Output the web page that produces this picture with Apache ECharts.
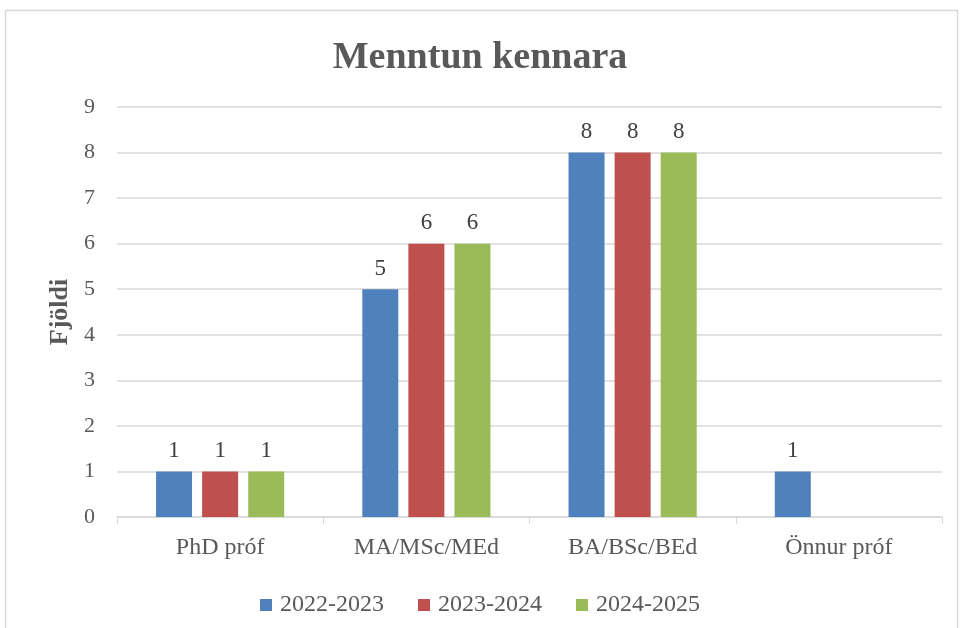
<!DOCTYPE html>
<html>
<head>
<meta charset="utf-8">
<script src="https://cdn.jsdelivr.net/npm/echarts@6/dist/echarts.min.js"></script>
<style>
  html, body { margin: 0; padding: 0; background: #fff; }
  #chart { width: 960px; height: 628px; }
</style>
</head>
<body>
<div id="chart"></div>
<script>
var categories = ['PhD próf', 'MA/MSc/MEd', 'BA/BSc/BEd', 'Önnur próf'];
var years = ['2022-2023', '2023-2024', '2024-2025'];
var val2223 = [1, 5, 8, 1];
var val2324 = [1, 6, 8, null];
var val2425 = [1, 6, 8, null];
var colors = ['#4f81bd', '#c0504d', '#9bbb59'];

var font = '"Liberation Serif", "DejaVu Serif", serif';
var chart = echarts.init(document.getElementById('chart'));

function mkSeries(name, data, color) {
    return {
        name: name,
        type: 'bar',
        data: data,
        barWidth: 36,
        barGap: '28%',
        itemStyle: { color: color },
        label: {
            show: true,
            position: 'top',
            distance: 9,
            color: '#404040',
            fontFamily: font,
            fontSize: 23
        },
        emphasis: { disabled: true }
    };
}

chart.setOption({
    animation: false,
    backgroundColor: '#fff',
    textStyle: { fontFamily: font },
    title: {
        text: 'Menntun kennara',
        left: 'center',
        top: 34,
        textStyle: { fontFamily: font, fontSize: 38, fontWeight: 'bold', color: '#595959' }
    },
    graphic: [{
        type: 'rect',
        shape: { x: 5.5, y: 10.5, width: 952, height: 620 },
        style: { fill: 'none', stroke: '#d9d9d9', lineWidth: 1.5 },
        silent: true
    }],
    legend: {
        data: years,
        top: 588,
        left: 'center',
        itemWidth: 12,
        itemHeight: 12,
        itemGap: 34,
        icon: 'rect',
        textStyle: { fontFamily: font, fontSize: 24, color: '#595959', padding: [0, 0, 0, 3] },
    },
    grid: { left: 117, right: 18, top: 107, bottom: 111 },
    xAxis: {
        type: 'category',
        data: categories,
        axisLine: { lineStyle: { color: '#d9d9d9', width: 1.5 } },
        axisTick: { show: true, length: 7, lineStyle: { color: '#d9d9d9' } },
        axisLabel: { fontFamily: font, fontSize: 24, color: '#595959', margin: 19 }
    },
    yAxis: {
        type: 'value',
        min: 0,
        max: 9,
        interval: 1,
        name: 'Fjöldi',
        nameLocation: 'middle',
        nameGap: 44,
        nameTextStyle: { fontFamily: font, fontSize: 26, fontWeight: 'bold', color: '#595959' },
        axisLine: { show: false },
        axisTick: { show: false },
        axisLabel: { fontFamily: font, fontSize: 22, color: '#595959', margin: 22 },
        splitLine: { lineStyle: { color: '#d9d9d9', width: 1.5 } }
    },
    series: [
        mkSeries(years[0], val2223, colors[0]),
        mkSeries(years[1], val2324, colors[1]),
        mkSeries(years[2], val2425, colors[2])
    ]
});
</script>
</body>
</html>
